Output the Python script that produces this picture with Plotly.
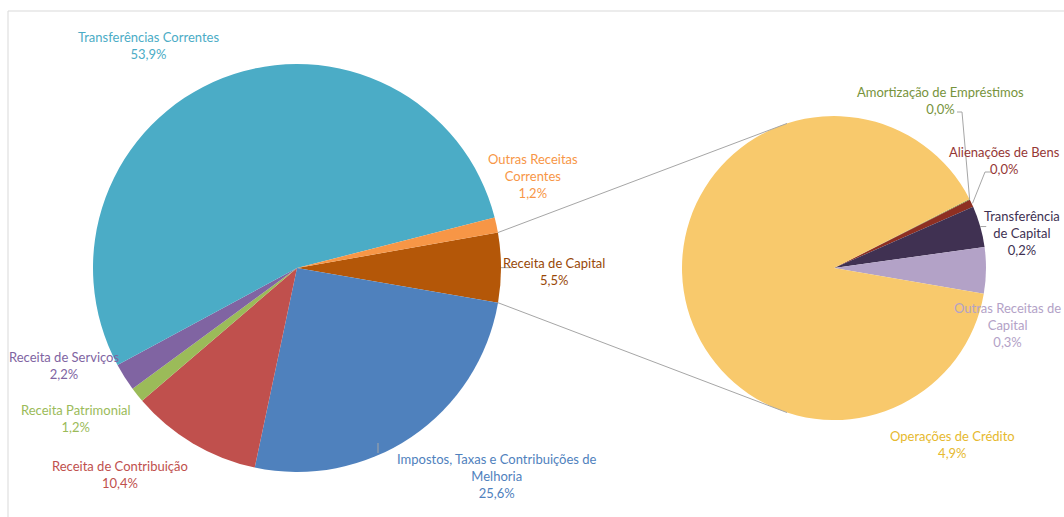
import math
import plotly.graph_objects as go

W, H = 1064, 517

# ---- data (percent of total revenue) ----
main_labels = ["Receita de Capital", "Impostos, Taxas e Contribuições de Melhoria",
               "Receita de Contribuição", "Receita Patrimonial", "Receita de Serviços",
               "Transferências Correntes", "Outras Receitas Correntes"]
main_values = [5.5, 25.6, 10.4, 1.2, 2.2, 53.9, 1.2]
main_colors = ["#b45708", "#4f81bd", "#c0504d", "#9bbb59", "#8064a2", "#4bacc6", "#f79646"]

sub_labels = ["Amortização de Empréstimos", "Alienações de Bens", "Transferência de Capital",
              "Outras Receitas de Capital", "Operações de Crédito"]
sub_values = [0.005, 0.045, 0.24, 0.27, 4.92]
sub_colors = ["#77933c", "#8e2f22", "#403152", "#b3a2c7", "#f8c96c"]

# ---- layout geometry (pixels) ----
L_CX, L_CY, L_R = 297, 268, 204
R_CX, R_CY, R_R = 834, 268, 152
L_ROT, R_ROT = 80, 63


def fmt(v):
    return f"{v:.1f}".replace(".", ",") + "%"


def px(x, y):
    return x / W, 1 - y / H


def dom(cx, cy, r):
    return dict(x=[(cx - r) / W, (cx + r) / W], y=[1 - (cy + r) / H, 1 - (cy - r) / H])


def on_circle(cx, cy, r, ang_deg):
    a = math.radians(ang_deg)
    return cx + r * math.sin(a), cy - r * math.cos(a)


fig = go.Figure()
fig.add_trace(go.Pie(labels=main_labels, values=main_values, sort=False, direction="clockwise",
                     rotation=L_ROT, marker=dict(colors=main_colors, line=dict(width=0)),
                     textinfo="none", hoverinfo="label+percent", domain=dom(L_CX, L_CY, L_R),
                     showlegend=False))
fig.add_trace(go.Pie(labels=sub_labels, values=sub_values, sort=False, direction="clockwise",
                     rotation=R_ROT, marker=dict(colors=sub_colors, line=dict(width=0)),
                     textinfo="none", hoverinfo="label", domain=dom(R_CX, R_CY, R_R),
                     showlegend=False))

shapes = []
# chart border
x0, y0 = px(8, 11)
x1, y1 = px(1075, 530)
shapes.append(dict(type="rect", xref="paper", yref="paper", x0=x0, y0=y1, x1=x1, y1=y0,
                   line=dict(color="#d9d9d9", width=1)))

# connector lines between the "Receita de Capital" slice and the secondary pie
total_main = sum(main_values)
a_start = L_ROT
a_end = L_ROT + main_values[0] / total_main * 360
p_up = on_circle(L_CX, L_CY, L_R, a_start)
p_dn = on_circle(L_CX, L_CY, L_R, a_end)
q_up = on_circle(R_CX, R_CY, R_R, -18)
q_dn = on_circle(R_CX, R_CY, R_R, 198)
for p, q in [(p_up, q_up), (p_dn, q_dn)]:
    a, b = px(*p)
    c, d = px(*q)
    shapes.append(dict(type="line", xref="paper", yref="paper", x0=a, y0=b, x1=c, y1=d,
                       line=dict(color="#a6a6a6", width=1)))


def leader(points):
    path = ""
    for i, (x, y) in enumerate(points):
        a, b = px(x, y)
        path += ("M" if i == 0 else "L") + f"{a},{b} "
    shapes.append(dict(type="path", xref="paper", yref="paper", path=path.strip(),
                       line=dict(color="#a6a6a6", width=1)))


total_sub = sum(sub_values)
cum = 0
sub_mid = []
for v in sub_values:
    sub_mid.append(R_ROT + (cum + v / 2) / total_sub * 360)
    cum += v

# leader lines for secondary small slices
amx, amy = on_circle(R_CX, R_CY, R_R, sub_mid[0])
leader([(957, 112), (962, 112), (amx, amy)])
alx, aly = on_circle(R_CX, R_CY, R_R, sub_mid[1])
leader([(991, 172), (985, 172), (alx + 1, aly)])
tcx, tcy = on_circle(R_CX, R_CY, R_R, sub_mid[2])
leader([(tcx, tcy), (tcx + 6, tcy)])
rcx, rcy = on_circle(L_CX, L_CY, L_R, (a_start + a_end) / 2)
leader([(rcx, rcy), (rcx + 11, rcy)])
leader([(378, 443), (378, 453)])

fig.update_layout(shapes=shapes)

FONT = "Lato"
label_specs = [
    # text, x, y, color
    ("Transferências Correntes<br>" + fmt(main_values[5]), 148, 46, "#4bacc6"),
    ("Outras Receitas<br>Correntes<br>" + fmt(main_values[6]), 533, 176, "#f79646"),
    ("Receita de Capital<br>" + fmt(main_values[0]), 554, 271, "#984807"),
    ("Impostos, Taxas e Contribuições de<br>Melhoria<br>" + fmt(main_values[1]), 497, 476, "#4f81bd"),
    ("Receita de Contribuição<br>" + fmt(main_values[2]), 120, 474, "#c0504d"),
    ("Receita Patrimonial<br>" + fmt(main_values[3]), 76, 418, "#9bbb59"),
    ("Receita de Serviços<br>" + fmt(main_values[4]), 64, 365, "#8064a2"),
    ("Amortização de Empréstimos<br>" + fmt(sub_values[0]), 940, 100, "#77933c"),
    ("Alienações de Bens<br>" + fmt(sub_values[1]), 1004, 160, "#953735"),
    ("Transferência<br>de Capital<br>" + fmt(sub_values[2]), 1022, 233, "#403152"),
    ("Outras Receitas de<br>Capital<br>" + fmt(sub_values[3]), 1007, 325, "#b3a2c7"),
    ("Operações de Crédito<br>" + fmt(sub_values[4]), 952, 444, "#e6b92e"),
]
anns = []
for text, x, y, col in label_specs:
    ax, ay = px(x, y)
    anns.append(dict(text=text, x=ax, y=ay, xref="paper", yref="paper", showarrow=False,
                     xanchor="center", yanchor="middle", align="center",
                     font=dict(family=FONT, size=13, color=col)))
fig.update_layout(annotations=anns)

fig.update_layout(width=W, height=H, autosize=False, margin=dict(l=0, r=0, t=0, b=0),
                  paper_bgcolor="white", plot_bgcolor="white", font=dict(family=FONT))
fig.write_html("out.html", config={"displayModeBar": False},
               post_script="document.body.style.margin='0';document.body.style.overflow='hidden';")
